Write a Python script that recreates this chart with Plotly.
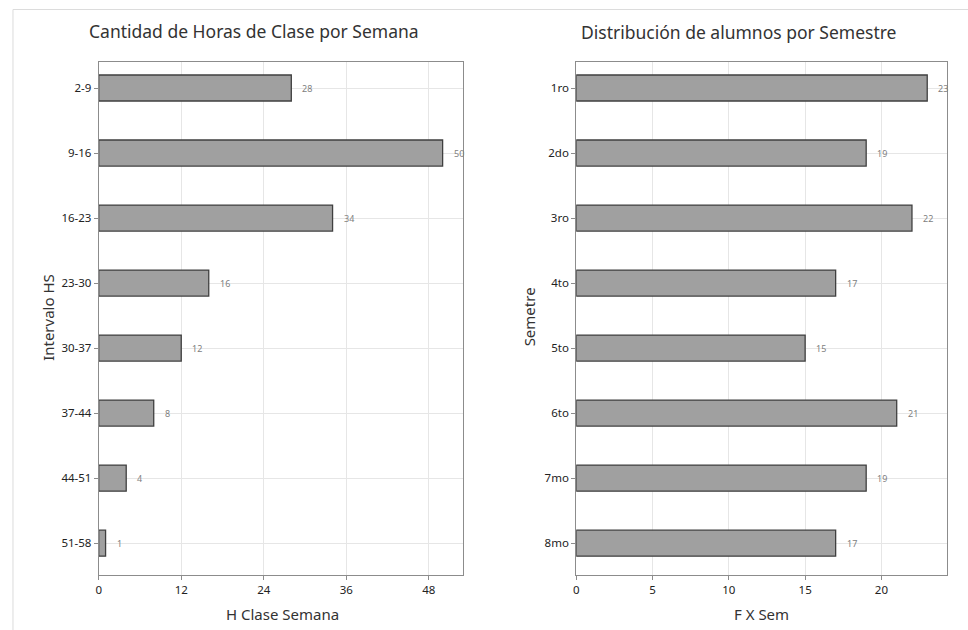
import plotly.graph_objects as go
from plotly.subplots import make_subplots

# data
intervalos = ["2-9", "9-16", "16-23", "23-30", "30-37", "37-44", "44-51", "51-58"]
horas = [28, 50, 34, 16, 12, 8, 4, 1]

semestres = ["1ro", "2do", "3ro", "4to", "5to", "6to", "7mo", "8mo"]
alumnos = [23, 19, 22, 17, 15, 21, 19, 17]

W, H = 968, 630
FONT = "Noto Sans"
BAR_FILL = "#a0a0a0"
BAR_LINE = "#3f3f3f"
GRID = "#e6e6e6"
FRAME = "#8c8c8c"

def px_x(v):
    return v / W

def px_y(v):
    return 1 - v / H

fig = make_subplots(rows=1, cols=2)

fig.add_trace(go.Bar(x=horas, y=intervalos, orientation="h", width=0.4,
                     marker=dict(color=BAR_FILL, line=dict(color=BAR_LINE, width=1.3)),
                     hoverinfo="x+y", showlegend=False), row=1, col=1)
fig.add_trace(go.Bar(x=alumnos, y=semestres, orientation="h", width=0.4,
                     marker=dict(color=BAR_FILL, line=dict(color=BAR_LINE, width=1.3)),
                     hoverinfo="x+y", showlegend=False), row=1, col=2)

# value labels next to each bar
for xs, ys, xr, yr in [(horas, intervalos, "x", "y"), (alumnos, semestres, "x2", "y2")]:
    for v, c in zip(xs, ys):
        fig.add_annotation(x=v, y=c, xref=xr, yref=yr, text=str(v), showarrow=False,
                           xanchor="left", xshift=9,
                           font=dict(family=FONT, size=9, color="#808080"))

axis_common = dict(showline=True, linecolor=FRAME, linewidth=1, mirror=True,
                   showgrid=True, gridcolor=GRID, gridwidth=1, zeroline=False,
                   ticks="outside", ticklen=4, tickcolor=FRAME,
                   tickfont=dict(family=FONT, size=11.5, color="#222222"))

y_dom = [px_y(575), px_y(62)]
fig.update_xaxes(axis_common)
fig.update_yaxes(axis_common)
fig.update_xaxes(domain=[px_x(96), px_x(461)], range=[0, 52.9], dtick=12, tick0=0, row=1, col=1)
fig.update_xaxes(domain=[px_x(575), px_x(947)], range=[0, 24.3], dtick=5, tick0=0, row=1, col=2)
fig.update_yaxes(domain=y_dom, range=[7.49, -0.4], row=1, col=1)
fig.update_yaxes(domain=y_dom, range=[7.49, -0.4], row=1, col=2)

texts = [
    ("Cantidad de Horas de Clase por Semana", 252, 31, 17.5, 0),
    ("Distribución de alumnos por Semestre", 738, 32, 17.5, 0),
    ("H Clase Semana", 280, 614, 15, 0),
    ("F X Sem", 761, 614, 15, 0),
    ("Intervalo HS", 45, 317, 15, -90),
    ("Semetre", 528, 317, 15, -90),
]
for t, x, y, s, ang in texts:
    fig.add_annotation(text=t, x=px_x(x), y=px_y(y), xref="paper", yref="paper",
                       showarrow=False, xanchor="center", yanchor="middle", textangle=ang,
                       font=dict(family=FONT, size=s, color="#333333"))

# faint outer frame (top and left edges)
fig.add_shape(type="line", xref="paper", yref="paper", x0=px_x(10), x1=1, y0=px_y(9.5), y1=px_y(9.5),
              line=dict(color="#dcdcdc", width=1))
fig.add_shape(type="line", xref="paper", yref="paper", x0=px_x(10), x1=px_x(10), y0=0, y1=px_y(9.5),
              line=dict(color="#dcdcdc", width=1))

fig.update_layout(width=W, height=H, margin=dict(l=0, r=0, t=0, b=0),
                  plot_bgcolor="white", paper_bgcolor="white",
                  font=dict(family=FONT, color="#333333"), bargap=0.6)

fig.write_html("out.html", config={"displayModeBar": False},
               post_script="document.body.style.margin='0';document.body.style.padding='0';document.body.style.overflow='hidden';")
